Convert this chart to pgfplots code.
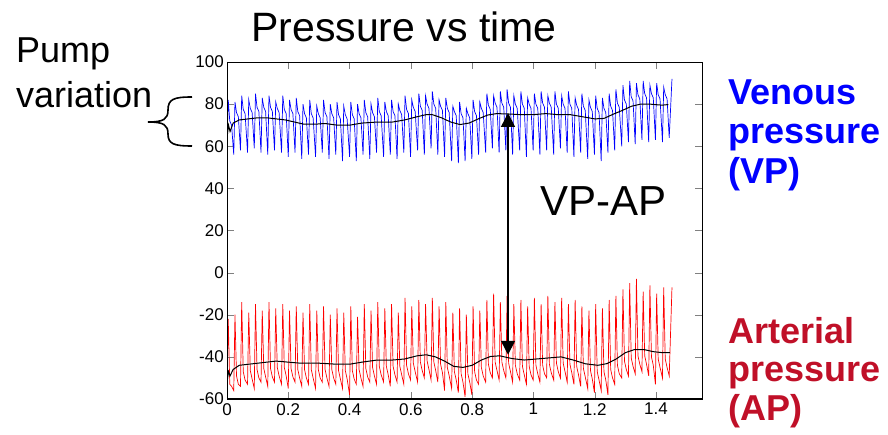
\documentclass[border=0pt]{standalone}
\usepackage{fontspec}
\setmainfont{Liberation Sans}
\usepackage{pgfplots}
\usepackage{pgfplotstable}
\pgfplotsset{compat=1.18}
\usetikzlibrary{arrows.meta}
\definecolor{vpblue}{RGB}{0,0,255}
\definecolor{aptext}{RGB}{192,16,40}

% pump signals: time, venous, arterial
\pgfplotstableread{
t vp ap
0.000 62 -52
0.004 82 -22
0.009 72 -53
0.015 70 -54
0.022 56 -56
0.026 81 -20
0.031 76 -49
0.037 74 -53
0.044 58 -54
0.048 84 -14
0.053 77.5 -47
0.059 75.5 -51
0.067 57 -53
0.071 82 -19
0.076 78 -46.5
0.082 76 -50.5
0.089 59 -55
0.093 85 -15
0.098 78.5 -46
0.104 76.5 -50
0.111 57 -52
0.115 83 -18
0.120 78.5 -45.5
0.126 76.5 -49.5
0.133 56 -54
0.137 84 -14
0.142 78.5 -45.5
0.148 76.5 -49.5
0.155 58 -52
0.159 81 -17
0.164 78 -45
0.170 76 -49
0.178 57 -53
0.182 84 -15
0.187 77.5 -45
0.193 75.5 -49
0.200 55 -55
0.204 82 -18
0.209 77.5 -45.5
0.215 75.5 -49.5
0.222 57 -52
0.226 83 -16
0.231 76.5 -46
0.237 74.5 -50
0.244 54 -54
0.248 80 -19
0.253 75.5 -46
0.259 73.5 -50
0.266 56 -53
0.270 82 -15
0.275 75.5 -46
0.281 73.5 -50
0.289 55 -55
0.293 79 -18
0.298 75.5 -46
0.304 73.5 -50
0.311 57 -52
0.315 82 -16
0.320 76 -46
0.326 74 -50
0.333 54 -54
0.337 80 -20
0.342 75.5 -46
0.348 73.5 -50
0.355 56 -53
0.359 81 -17
0.364 75 -46.5
0.370 73 -50.5
0.377 53 -55
0.381 79 -19
0.386 75 -46.5
0.392 73 -50.5
0.400 55 -58
0.404 81 -16
0.409 75 -46.5
0.415 73 -50.5
0.422 53 -53
0.426 80 -21
0.431 75.5 -46
0.437 73.5 -50
0.444 56 -54
0.448 82 -15
0.453 76 -45.5
0.459 74 -49.5
0.466 54 -52
0.470 80 -18
0.475 76 -45
0.481 74 -49
0.488 57 -53
0.492 83 -14
0.497 76.5 -44.5
0.503 74.5 -48.5
0.511 55 -52
0.515 81 -17
0.520 76.5 -44.5
0.526 74.5 -48.5
0.533 56 -54
0.537 82 -15
0.542 76.5 -44.5
0.548 74.5 -48.5
0.555 54 -52
0.559 80 -19
0.564 77 -44.5
0.570 75 -48.5
0.577 57 -53
0.581 84 -12
0.586 77.5 -44
0.592 75.5 -48
0.599 55 -51
0.603 82 -16
0.608 78.5 -43
0.614 76.5 -47
0.622 58 -52
0.626 85 -13
0.631 79 -42.5
0.637 77 -46.5
0.644 56 -50
0.648 84 -15
0.653 80 -42
0.659 78 -46
0.666 59 -51
0.670 86 -12
0.675 80 -42.5
0.681 78 -46.5
0.688 56 -52
0.692 82 -16
0.697 79 -43.5
0.703 77 -47.5
0.710 55 -56
0.714 83 -14
0.719 78 -45
0.725 76 -49
0.733 53 -55
0.737 79 -19
0.742 76.5 -47
0.748 74.5 -51
0.755 52 -57
0.759 81 -17
0.764 75.5 -48
0.770 73.5 -52
0.777 53 -59
0.781 78 -20
0.786 75.5 -48
0.792 73.5 -52
0.799 54 -58
0.803 82 -16
0.808 76.5 -47
0.814 74.5 -51
0.821 56 -53
0.825 81 -18
0.830 78 -45
0.836 76 -49
0.844 57 -52
0.848 85 -13
0.853 79.5 -43.5
0.859 77.5 -47.5
0.866 59 -50
0.870 84 -10
0.875 80.5 -42.5
0.881 78.5 -46.5
0.888 57 -51
0.892 86 -14
0.897 80.5 -42.5
0.903 78.5 -46.5
0.910 58 -50
0.914 87 -11
0.919 80.5 -43
0.925 78.5 -47
0.932 56 -52
0.936 84 -15
0.941 80 -44
0.947 78 -48
0.955 58 -51
0.959 86 -13
0.964 80 -44.5
0.970 78 -48.5
0.977 55 -53
0.981 83 -16
0.986 80 -44.5
0.992 78 -48.5
0.999 58 -51
1.003 85 -12
1.008 80 -44
1.014 78 -48
1.021 56 -52
1.025 86 -15
1.030 80.5 -44
1.036 78.5 -48
1.043 58 -50
1.047 84 -11
1.052 80.5 -43.5
1.058 78.5 -47.5
1.066 56 -51
1.070 86 -14
1.075 80 -43
1.081 78 -47
1.088 59 -50
1.092 84 -12
1.097 80 -43
1.103 78 -47
1.110 57 -52
1.114 86 -15
1.119 80 -43.5
1.125 78 -47.5
1.132 55 -53
1.136 83 -13
1.141 79.5 -44.5
1.147 77.5 -48.5
1.154 57 -54
1.158 85 -16
1.163 79 -45.5
1.169 77 -49.5
1.177 54 -55
1.181 82 -18
1.186 78.5 -46.5
1.192 76.5 -50.5
1.199 56 -57
1.203 84 -15
1.208 78 -47
1.214 76 -51
1.221 53 -56
1.225 83 -17
1.230 78 -47
1.236 76 -51
1.243 57 -58
1.247 85 -13
1.252 79 -46
1.258 77 -50
1.265 58 -53
1.269 87 -11
1.274 80.5 -44
1.280 78.5 -48
1.288 60 -50
1.292 89 -8
1.297 82 -42
1.303 80 -46
1.310 62 -49
1.314 91 -5
1.319 83.5 -40.5
1.325 81.5 -44.5
1.332 61 -48
1.336 90 -3
1.341 84.5 -39.5
1.347 82.5 -43.5
1.354 63 -47
1.358 91 -9
1.363 85 -39.5
1.369 83 -43.5
1.376 62 -49
1.380 89 -6
1.385 85 -40
1.391 83 -44
1.398 63 -53
1.402 90 -10
1.407 84.5 -41
1.413 82.5 -45
1.421 62 -50
1.425 88 -7
1.430 84.5 -41
1.436 82.5 -45
1.443 64 -49
1.452 92 -7
}\sig

% running means
\pgfplotstableread{
t m
0.000 64
0.005 70
0.010 67
0.020 71
0.040 72.5
0.070 73
0.100 73.5
0.130 73.5
0.160 73
0.190 72.5
0.220 71.5
0.250 70.5
0.290 70.5
0.320 70.8
0.360 70
0.400 70
0.440 71
0.490 71.5
0.540 71.5
0.580 72.5
0.620 74
0.650 75
0.670 75
0.700 73.5
0.730 71.5
0.760 70.3
0.790 71
0.820 73
0.850 74.8
0.880 75.5
0.920 75.3
0.960 75
1.000 75
1.040 75.5
1.080 75
1.120 75
1.160 74
1.200 73
1.230 73.2
1.260 75.2
1.290 77
1.320 79
1.350 80
1.380 80
1.420 79.5
1.440 79.8
}\vpmean

\pgfplotstableread{
t m
0.000 -52
0.005 -47
0.010 -49
0.020 -46
0.040 -44
0.070 -43.5
0.100 -43
0.130 -42.5
0.160 -42
0.200 -42.5
0.240 -43
0.300 -43
0.360 -43.5
0.400 -43.5
0.440 -42.5
0.490 -41.5
0.540 -41.5
0.580 -41
0.620 -39.5
0.650 -39
0.680 -40
0.710 -42
0.740 -44.5
0.770 -45
0.800 -44
0.830 -41.5
0.860 -39.8
0.890 -39.5
0.930 -40.8
0.970 -41.5
1.010 -41
1.050 -40.5
1.090 -40
1.130 -41.5
1.170 -43.3
1.210 -44
1.240 -43.2
1.270 -41
1.300 -38
1.330 -36.5
1.360 -36.5
1.390 -37.5
1.420 -38
1.445 -38
}\apmean

\begin{document}
\begin{tikzpicture}
\useasboundingbox (0pt,0pt) rectangle (888pt,-435pt);
\begin{axis}[
    at={(227pt,-399pt)}, anchor=south west,
    scale only axis,
    width=475pt, height=337pt,
    xmin=0, xmax=1.55,
    ymin=-60, ymax=100,
    xtick={0,0.2,0.4,0.6,0.8,1,1.2,1.4},
    ytick={-60,-40,-20,0,20,40,60,80,100},
    tick align=inside,
    major tick length=7pt,
    axis line style={line width=0.8pt},
    /pgf/number format/assume math mode=true,
    tick label style={font=\fontsize{17}{20}\selectfont},
    yticklabel style={inner sep=0pt, xshift=-3pt},
    xticklabel style={inner sep=0pt, yshift=-4pt},
]
\addplot[vpblue, line width=0.7pt] table[x=t, y=vp] {\sig};
\addplot[red, line width=0.7pt] table[x=t, y=ap] {\sig};
\addplot[black, line width=1pt] table[x=t, y=m] {\vpmean};
\addplot[black, line width=1pt] table[x=t, y=m] {\apmean};
\draw[line width=2pt] (rel axis cs:0,1) -- (rel axis cs:0,0) -- (rel axis cs:1,0);
\draw[line width=1.5pt, {Triangle[length=14pt,width=14pt]}-{Triangle[length=14pt,width=14pt]}]
    (axis cs:0.917,75.8) -- (axis cs:0.917,-39);
\end{axis}

\node[anchor=base, inner sep=0pt] at (404pt,-42pt) {\fontsize{41}{48}\selectfont Pressure vs time};
\node[anchor=base west, inner sep=0pt] at (540pt,-216pt) {\fontsize{42}{48}\selectfont VP-AP};
\node[anchor=base west, inner sep=0pt] at (16pt,-63pt) {\fontsize{36}{42}\selectfont Pump};
\node[anchor=base west, inner sep=0pt] at (16pt,-108pt) {\fontsize{36}{42}\selectfont variation};
\draw[line width=1.6pt] (192pt,-97pt) .. controls (174pt,-97pt) and (168pt,-99pt) .. (168pt,-110pt)
    .. controls (168pt,-119pt) and (164pt,-122pt) .. (148pt,-122pt)
    .. controls (164pt,-122pt) and (168pt,-125pt) .. (168pt,-134pt)
    .. controls (168pt,-144pt) and (174pt,-146pt) .. (192pt,-146pt);
\begin{scope}[every node/.style={anchor=base west, inner sep=0pt, font=\fontsize{36}{42}\selectfont\bfseries}]
\node[text=vpblue] at (728pt,-105pt) {Venous};
\node[text=vpblue] at (728pt,-144pt) {pressure};
\node[text=vpblue] at (728pt,-184pt) {(VP)};
\node[text=aptext] at (728pt,-343pt) {Arterial};
\node[text=aptext] at (728pt,-381pt) {pressure};
\node[text=aptext] at (728pt,-420pt) {(AP)};
\end{scope}
\end{tikzpicture}
\end{document}
